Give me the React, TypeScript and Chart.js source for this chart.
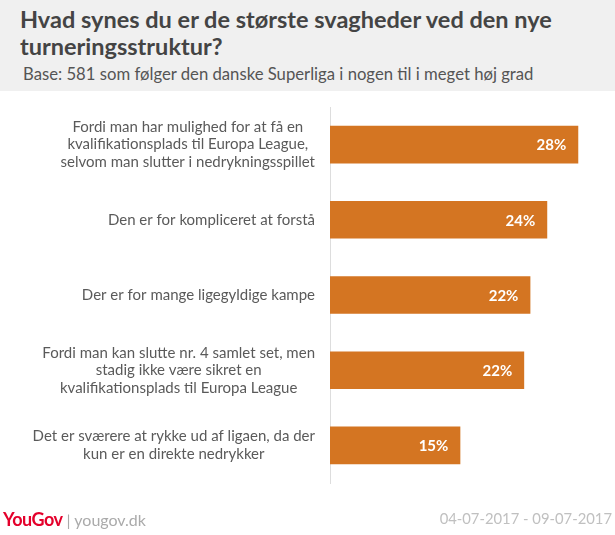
import React, { useEffect, useRef } from "react";
import { Chart, registerables } from "chart.js";

Chart.register(...registerables);

const categories: string[][] = [
  ["Fordi man har mulighed for at få en", "kvalifikationsplads til Europa League,", "selvom man slutter i nedrykningsspillet"],
  ["Den er for kompliceret at forstå"],
  ["Der er for mange ligegyldige kampe"],
  ["Fordi man kan slutte nr. 4 samlet set, men", "stadig ikke være sikret en", "kvalifikationsplads til Europa League"],
  ["Det er sværere at rykke ud af ligaen, da der", "kun er en direkte nedrykker"],
];
const values: number[] = [28, 24.5, 22.6, 21.9, 14.7];
const valueLabels: string[] = ["28%", "24%", "22%", "22%", "15%"];

const title = "Hvad synes du er de største svagheder ved den nye turneringsstruktur?";
const subtitle = "Base: 581 som følger den danske Superliga i nogen til i meget høj grad";
const dateText = "04-07-2017 - 09-07-2017";

const BAR_COLOR = "#d47522";

export default function App() {
  const ref = useRef<HTMLCanvasElement | null>(null);

  useEffect(() => {
    document.body.style.margin = "0";
    const canvas = ref.current;
    if (!canvas) return;
    const labelPlugin = {
      id: "valueLabels",
      afterDatasetsDraw(chart: any) {
        const ctx = chart.ctx;
        const meta = chart.getDatasetMeta(0);
        const yScale = chart.scales.y;
        ctx.save();
        ctx.font = "bold 15px Lato";
        ctx.fillStyle = "#ffffff";
        ctx.textAlign = "right";
        ctx.textBaseline = "middle";
        meta.data.forEach((bar: any, i: number) => {
          ctx.fillText(valueLabels[i], bar.x - 12, bar.y + 1);
        });
        // category labels: block right-aligned to axis, lines centered within block
        ctx.font = "15px Lato";
        ctx.fillStyle = "#5a5a5a";
        ctx.textAlign = "center";
        const lh = 17.5;
        const right = yScale.right - 15;
        categories.forEach((lines, i) => {
          const cy = yScale.getPixelForValue(i);
          const w = Math.max(...lines.map((l) => ctx.measureText(l).width));
          const cx = right - w / 2;
          const top = cy - ((lines.length - 1) * lh) / 2;
          lines.forEach((l, j) => ctx.fillText(l, cx, top + j * lh));
        });
        ctx.restore();
      },
    };
    const chart = new Chart(canvas, {
      type: "bar",
      data: {
        labels: categories.map((c) => c.join(" ")),
        datasets: [
          {
            data: values,
            backgroundColor: BAR_COLOR,
            borderWidth: 0,
            barPercentage: 0.5,
            categoryPercentage: 1,
          },
        ],
      },
      options: {
        indexAxis: "y",
        animation: false,
        responsive: false,
        maintainAspectRatio: false,
        layout: { padding: { top: 107, bottom: 52, right: 19, left: 0 } },
        plugins: {
          legend: { display: false },
          tooltip: { enabled: false },
        },
        scales: {
          x: {
            display: false,
            min: 0,
            max: 30,
          },
          y: {
            grid: { display: false, drawTicks: false },
            border: { display: true, color: "#dddddd", width: 1 },
            ticks: { display: false },
            afterFit(scale: any) {
              scale.width = 330;
            },
          },
        },
      },
      plugins: [labelPlugin],
    });
    return () => chart.destroy();
  }, []);

  return (
    <div style={{ position: "relative", width: 615, height: 535, background: "#ffffff", overflow: "hidden" }}>
      <div style={{ position: "absolute", left: 0, top: 0, width: 615, height: 91, background: "#f0f0f0" }} />
      <div
        style={{
          position: "absolute",
          left: 20,
          top: 6,
          width: 590,
          fontFamily: "Lato",
          fontWeight: 700,
          fontSize: 23.5,
          lineHeight: "27px",
          color: "#444444",
        }}
      >
        {title}
      </div>
      <div
        style={{
          position: "absolute",
          left: 23,
          top: 64,
          fontFamily: "Lato",
          fontSize: 16.7,
          color: "#555555",
          whiteSpace: "nowrap",
        }}
      >
        {subtitle}
      </div>
      <canvas ref={ref} width={615} height={535} style={{ position: "absolute", left: 0, top: 0 }} />
      <div
        style={{
          position: "absolute",
          left: 3,
          top: 508,
          fontFamily: "Lato",
          whiteSpace: "nowrap",
        }}
      >
        <span style={{ color: "#e4002b", fontWeight: 700, fontSize: 18, letterSpacing: -0.5 }}>YouGov</span>
        <span style={{ color: "#aaaaaa", fontSize: 16 }}> | yougov.dk</span>
      </div>
      <div
        style={{
          position: "absolute",
          right: 3,
          top: 509,
          fontFamily: "Lato",
          fontSize: 14.8,
          color: "#c0c0c0",
          whiteSpace: "nowrap",
        }}
      >
        {dateText}
      </div>
    </div>
  );
}
